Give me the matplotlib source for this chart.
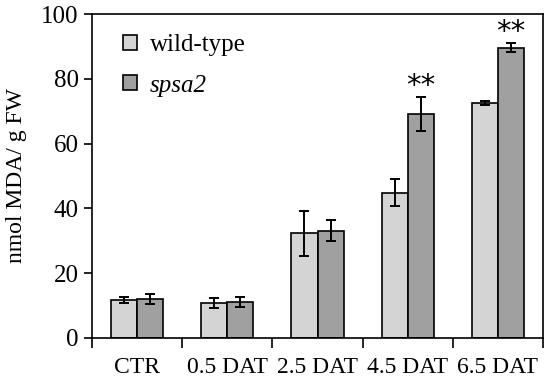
import numpy as np
import matplotlib
matplotlib.use("Agg")
import matplotlib.pyplot as plt

categories = ["CTR", "0.5 DAT", "2.5 DAT", "4.5 DAT", "6.5 DAT"]
wild_type = [11.7, 10.8, 32.3, 44.9, 72.6]
wild_type_err = [0.9, 1.5, 7.0, 4.3, 0.7]
spsa2 = [12.1, 11.2, 33.1, 69.2, 89.6]
spsa2_err = [1.5, 1.6, 3.3, 5.2, 1.4]
stars = ["", "", "", "**", "**"]

plt.rcParams['font.family'] = ['Liberation Serif', 'DejaVu Serif']

fig = plt.figure(figsize=(5.5, 3.88), dpi=100)
ax = fig.add_axes([0.1673, 0.1289, 0.82, 0.835])

x = np.arange(len(categories))
w = 0.29
ax.bar(x - w/2, wild_type, w, color='#d4d4d4', edgecolor='black', linewidth=1.2, label='wild-type', zorder=2)
ax.bar(x + w/2, spsa2, w, color='#a0a0a0', edgecolor='black', linewidth=1.2, label='spsa2', zorder=2)
ax.errorbar(x - w/2, wild_type, yerr=wild_type_err, fmt='none', ecolor='black', elinewidth=1.4, capsize=3.5, capthick=1.4, zorder=3)
ax.errorbar(x + w/2, spsa2, yerr=spsa2_err, fmt='none', ecolor='black', elinewidth=1.4, capsize=3.5, capthick=1.4, zorder=3)

for i, s in enumerate(stars):
    if s:
        ax.text(x[i] + w/2, spsa2[i] + spsa2_err[i] + 3.4, s, ha='center', va='center', fontsize=21, family='DejaVu Sans')

ax.set_xlim(-0.5, len(categories) - 0.5)
ax.set_ylim(0, 100)
ax.set_yticks([0, 20, 40, 60, 80, 100])
ax.tick_params(axis='y', labelsize=18, direction='out', length=6, width=1.2)
ax.set_xticks(np.arange(len(categories) + 1) - 0.5)
ax.set_xticklabels([])
ax.tick_params(axis='x', which='major', direction='out', length=7, width=1.2)
ax.set_xticks(x, minor=True)
ax.set_xticklabels(categories, minor=True, fontsize=17)
ax.tick_params(axis='x', which='minor', length=0, pad=14)
for sp in ax.spines.values():
    sp.set_linewidth(1.2)

ax.set_ylabel('nmol MDA/ g FW', fontsize=17, labelpad=10)

h, l = ax.get_legend_handles_labels()
leg = ax.legend(h, ['wild-type', 'spsa2'], loc='upper left', bbox_to_anchor=(0.025, 1.0), frameon=False,
                fontsize=18, handlelength=0.55, handleheight=0.55, handletextpad=0.5, labelspacing=0.75,
                borderpad=0.3)
leg.get_texts()[1].set_style('italic')

fig.savefig('out.png', dpi=100)
